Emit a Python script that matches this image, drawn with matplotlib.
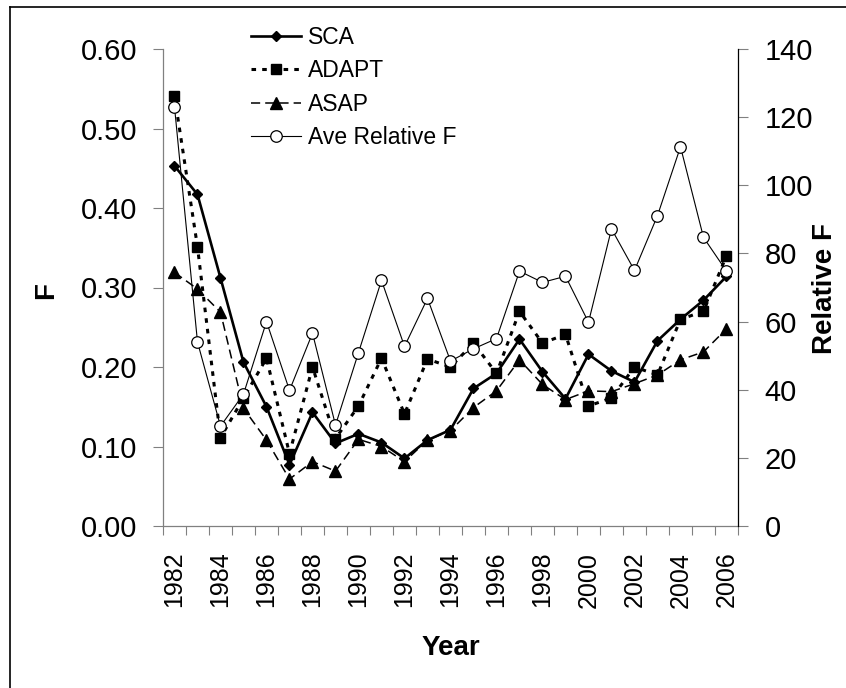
import matplotlib
matplotlib.use("Agg")
import matplotlib.pyplot as plt
from matplotlib.lines import Line2D
import numpy as np

plt.rcParams['font.family'] = ['Liberation Sans', 'DejaVu Sans']

years = list(range(1982, 2007))
sca = [0.453, 0.417, 0.312, 0.206, 0.150, 0.077, 0.143, 0.104, 0.116, 0.105,
       0.085, 0.108, 0.121, 0.173, 0.192, 0.235, 0.194, 0.160, 0.216, 0.195,
       0.181, 0.233, 0.260, 0.284, 0.314]
adapt = [0.541, 0.351, 0.111, 0.161, 0.211, 0.091, 0.200, 0.110, 0.151, 0.211,
         0.141, 0.210, 0.200, 0.230, 0.192, 0.270, 0.230, 0.241, 0.151, 0.161,
         0.200, 0.190, 0.260, 0.270, 0.340]
asap = [0.319, 0.298, 0.269, 0.148, 0.108, 0.059, 0.081, 0.069, 0.109, 0.100,
        0.081, 0.108, 0.120, 0.149, 0.170, 0.209, 0.178, 0.159, 0.170, 0.169,
        0.179, 0.190, 0.209, 0.219, 0.248]
rel_f = [123.0, 54.0, 29.3, 38.7, 60.0, 39.8, 56.6, 29.6, 50.9, 72.1,
         52.7, 66.8, 48.4, 52.0, 55.0, 74.8, 71.5, 73.3, 59.8, 87.2,
         75.0, 91.1, 111.3, 84.7, 74.8]
series_labels = ["SCA", "ADAPT", "ASAP", "Ave Relative F"]
year_labels = [str(y) for y in years[::2]]

W, H = 846, 688
fig = plt.figure(figsize=(W / 100, H / 100), dpi=100)
ax = fig.add_axes([163 / W, 1 - 526 / H, (738 - 163) / W, (526 - 49) / H])
ax2 = ax.twinx()

gray = '#808080'

l1, = ax.plot(years, sca, color='black', lw=1.9, marker='D', ms=5,
              mfc='black', mec='black', zorder=5)
l2, = ax.plot(years, adapt, color='black', lw=2.2, linestyle=(0, (1.5, 2.0)),
              dash_capstyle='butt', marker='s', ms=7, mfc='black', mec='black',
              zorder=4)
l3, = ax.plot(years, asap, color='black', lw=1.1, linestyle=(0, (6.0, 3.3)),
              marker='^', ms=8, mfc='black', mec='black', zorder=3)
l4, = ax2.plot(years, rel_f, color='black', lw=0.8, marker='o', ms=8.3,
               mfc='white', mec='black', mew=0.9, zorder=3)

ax.set_xlim(1981.5, 2006.5)
ax.set_ylim(0, 0.6)
ax2.set_ylim(0, 140)

yt = np.arange(0, 0.61, 0.1)
ax.set_yticks(yt)
ax.set_yticklabels([f"{v:.2f}" for v in yt])
ax2.set_yticks(np.arange(0, 141, 20))

ax.set_xticks(years[::2])
ax.set_xticklabels(year_labels, rotation=90)
ax.set_xticks(np.arange(1981.5, 2007, 1.0), minor=True)
ax.tick_params(axis='x', which='major', length=0, pad=18.5, labelsize=18)
ax.tick_params(axis='x', which='minor', length=6.5, width=0.8, color=gray,
               direction='out')
ax.tick_params(axis='y', length=7.2, width=0.8, color=gray, pad=11.5,
               labelsize=21, direction='out')
ax2.tick_params(axis='y', length=7.2, width=0.8, color=gray, pad=12,
                labelsize=21, direction='out')

for s in ['top', 'right']:
    ax.spines[s].set_visible(False)
for s in ['top', 'left', 'bottom']:
    ax2.spines[s].set_visible(False)
ax.spines['left'].set_color(gray)
ax.spines['bottom'].set_color(gray)
ax.spines['left'].set_linewidth(0.9)
ax.spines['bottom'].set_linewidth(0.9)
ax2.spines['right'].set_color('black')
ax2.spines['right'].set_linewidth(0.9)

fig.text(450.5 / W, 1 - 648 / H, "Year", fontsize=20, fontweight='bold',
         ha='center', va='center')
fig.text(46 / W, 1 - 290 / H, "F", fontsize=20, fontweight='bold',
         ha='center', va='center', rotation=90)
fig.text(825 / W, 1 - 288 / H, "Relative F", fontsize=20, fontweight='bold',
         ha='center', va='center', rotation=90)

fig.legend([l1, l2, l3, l4], series_labels, loc='upper left',
           bbox_to_anchor=(251 / W, 1 - 26 / H), frameon=False, fontsize=16.5,
           handlelength=2.2, handletextpad=0.3, labelspacing=0.45,
           borderpad=0, borderaxespad=0)

fig.add_artist(Line2D([9.5 / W, 9.5 / W], [0, 1 - 7 / H], color='black',
                      lw=1.2, transform=fig.transFigure))
fig.add_artist(Line2D([9.5 / W, 1], [1 - 7 / H, 1 - 7 / H], color='black',
                      lw=1.2, transform=fig.transFigure))

fig.savefig("out.png", dpi=100)
